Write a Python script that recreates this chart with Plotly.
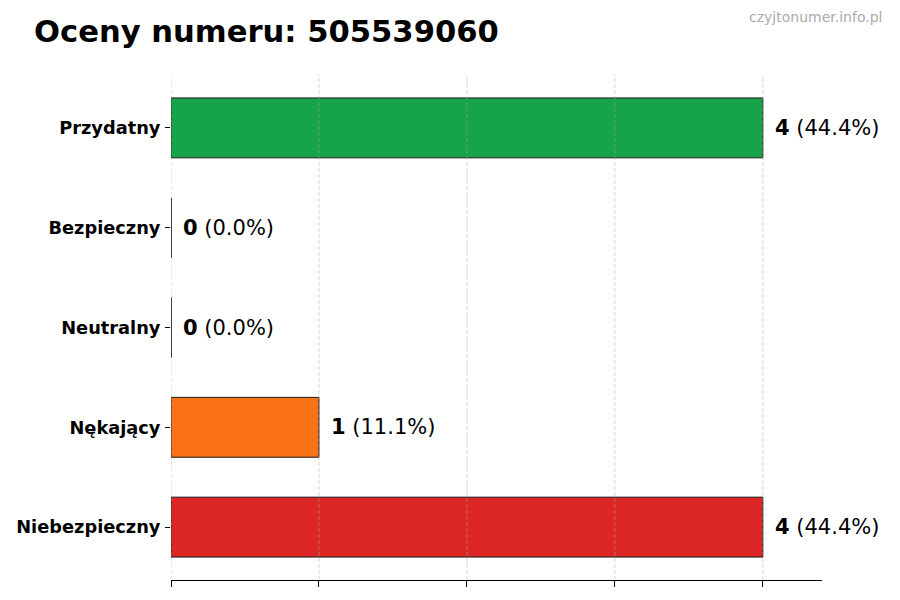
import plotly.graph_objects as GO

# ratings from top to bottom
categories = ["Przydatny", "Bezpieczny", "Neutralny", "Nękający", "Niebezpieczny"]
counts = [4, 0, 0, 1, 4]
colors = ["#16a34a", "#9ca3af", "#6b7280", "#f97316", "#dc2626"]
x_ticks = [0, 1, 2, 3, 4]

FONT = "DejaVu Sans"
# page body adds 8px around the plot, so margins are shifted to compensate
PAD = 8


def main():
  total = sum(counts)
  # plot bottom-up so first category sits at top
  cats = categories[::-1]
  vals = counts[::-1]
  cols = colors[::-1]

  fig = GO.Figure()
  fig.add_trace(GO.Bar(
      x=vals, y=cats, orientation="h",
      width=0.6,
      marker=dict(color=cols, line=dict(color="#1a1a1a", width=1)),
      hoverinfo="skip"
  ))

  annotations = []
  for c, v in zip(cats, vals):
    pct = 100.0 * v / total if total else 0
    annotations.append(dict(
        x=v, y=c, xref="x", yref="y",
        text=f"<b>{v}</b> ({pct:.1f}%)",
        showarrow=False, xanchor="left", yanchor="middle",
        xshift=10,
        font=dict(family=FONT, size=21, color="black")
    ))

  annotations.append(dict(
      x=1.0, y=1.0, xref="paper", yref="paper",
      xanchor="right", yanchor="middle", yshift=58, xshift=62,
      text="czyjtonumer.info.pl", showarrow=False,
      font=dict(family=FONT, size=14, color="#aaaaaa")
  ))

  shapes = []
  # dashed grid drawn over bars
  for t in x_ticks:
    shapes.append(dict(
        type="line", xref="x", yref="paper", x0=t, x1=t, y0=0, y1=1,
        line=dict(color="rgba(170,170,170,0.5)", width=1, dash="4px,2px"),
        layer="above"
    ))
  # thin edge for zero-width bars
  for i, v in enumerate(vals):
    if v == 0:
      shapes.append(dict(
          type="line", xref="x", yref="y", x0=0, x1=0, y0=i - 0.3, y1=i + 0.3,
          line=dict(color="#1a1a1a", width=1)
      ))

  fig.update_layout(
      width=900, height=600,
      margin=dict(l=171 - PAD, r=78 + PAD, t=75 - PAD, b=20 + PAD),
      paper_bgcolor="white", plot_bgcolor="white",
      showlegend=False,
      title=dict(
          text="<b>Oceny numeru: 505539060</b>",
          x=(34 - PAD) / 900, xanchor="left", y=1 - (31 - PAD) / 600, yanchor="middle",
          font=dict(family=FONT, size=30.6, color="black")
      ),
      annotations=annotations,
      shapes=shapes,
      xaxis=dict(
          range=[0, 4.4], tickvals=x_ticks, showticklabels=False,
          ticks="outside", ticklen=6, tickcolor="black",
          showgrid=False, zeroline=False, automargin=False,
          showline=True, linecolor="black", linewidth=1
      ),
      yaxis=dict(
          range=[-0.53, 4.53], ticks="outside", ticklen=5, tickcolor="black",
          showgrid=False, zeroline=False, showline=False, automargin=False,
          ticklabelstandoff=1,
          tickfont=dict(family=FONT, size=17.8, color="black", weight="bold")
      )
  )

  fig.write_html("out.html")


if __name__ == "__main__":
  main()
